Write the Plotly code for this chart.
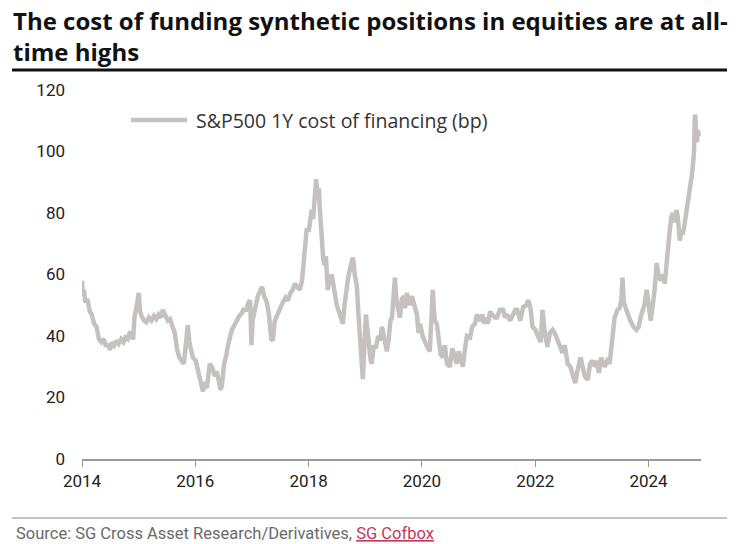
import plotly.graph_objects as go

dates = [
"2014-01-01","2014-01-07","2014-01-14","2014-01-22","2014-02-05","2014-02-20","2014-03-05","2014-03-20",
"2014-04-05","2014-04-20","2014-05-05","2014-05-22","2014-06-05","2014-06-17","2014-06-30","2014-07-15",
"2014-07-28","2014-08-12","2014-08-25","2014-09-10","2014-09-25","2014-10-08","2014-10-22","2014-11-07",
"2014-11-20","2014-11-27","2014-12-05","2014-12-15","2014-12-24","2015-01-02","2015-01-10","2015-01-20",
"2015-02-05","2015-02-20","2015-03-08","2015-03-25","2015-04-10","2015-04-25","2015-05-10","2015-05-25",
"2015-06-06","2015-06-20","2015-07-08","2015-07-22","2015-08-05","2015-08-22","2015-09-05","2015-09-20",
"2015-10-05","2015-10-19","2015-11-01","2015-11-14","2015-11-24","2015-12-05","2015-12-16","2016-01-04",
"2016-01-15","2016-01-30","2016-02-10","2016-02-20","2016-03-05","2016-03-15","2016-04-04","2016-04-17",
"2016-05-06","2016-05-19","2016-06-01","2016-06-12","2016-06-21","2016-07-05","2016-07-20","2016-07-30",
"2016-08-24","2016-09-10","2016-09-25","2016-10-10","2016-10-28","2016-11-10","2016-11-22","2016-12-10",
"2016-12-20","2016-12-28","2017-01-05","2017-01-19","2017-02-08","2017-03-06","2017-03-20","2017-04-06",
"2017-04-20","2017-05-05","2017-05-15","2017-05-28","2017-06-16","2017-07-05","2017-07-19","2017-08-05",
"2017-08-20","2017-09-05","2017-09-20","2017-10-04","2017-10-20","2017-11-05","2017-11-19","2017-11-28",
"2017-12-07","2017-12-20","2018-01-01","2018-01-10","2018-01-21","2018-01-30","2018-02-09","2018-02-18",
"2018-02-28","2018-03-08","2018-03-13","2018-03-20","2018-03-26","2018-04-05","2018-04-14","2018-04-22",
"2018-05-04","2018-05-15","2018-05-30","2018-06-10","2018-06-20","2018-07-01","2018-07-15","2018-08-01",
"2018-08-09","2018-08-20","2018-09-01","2018-09-10","2018-09-25","2018-10-13","2018-10-25","2018-11-08",
"2018-11-18","2018-11-27","2018-12-08","2018-12-16","2018-12-24","2019-01-05","2019-01-11","2019-01-25",
"2019-02-05","2019-02-12","2019-02-25","2019-03-10","2019-03-25","2019-04-05","2019-04-18","2019-05-01",
"2019-05-20","2019-06-01","2019-06-12","2019-06-22","2019-07-05","2019-07-11","2019-07-20","2019-08-01",
"2019-08-12","2019-08-25","2019-09-05","2019-09-14","2019-09-25","2019-10-05","2019-10-16","2019-10-28",
"2019-11-10","2019-11-30","2019-12-10","2019-12-20","2020-01-05","2020-01-20","2020-02-08","2020-02-21",
"2020-03-05","2020-03-11","2020-03-18","2020-03-24","2020-04-06","2020-04-20","2020-05-01","2020-05-15",
"2020-05-28","2020-06-10","2020-06-29","2020-07-15","2020-07-25","2020-08-13","2020-08-25","2020-09-05",
"2020-09-21","2020-10-05","2020-10-17","2020-11-06","2020-11-20","2020-12-08","2020-12-20","2021-01-09",
"2021-01-25","2021-02-04","2021-02-20","2021-03-02","2021-03-15","2021-03-28","2021-04-15","2021-04-29",
"2021-05-18","2021-06-07","2021-06-20","2021-07-03","2021-07-22","2021-08-11","2021-08-25","2021-09-06",
"2021-09-26","2021-10-15","2021-11-04","2021-11-17","2021-12-01","2021-12-14","2022-01-01","2022-01-20",
"2022-02-05","2022-02-16","2022-03-01","2022-03-20","2022-04-05","2022-04-22","2022-05-05","2022-05-24",
"2022-06-10","2022-06-25","2022-07-10","2022-07-28","2022-08-15","2022-09-01","2022-09-15","2022-10-01",
"2022-10-20","2022-11-02","2022-11-15","2022-12-05","2022-12-20","2023-01-05","2023-01-20","2023-01-31",
"2023-02-15","2023-03-01","2023-03-24","2023-04-10","2023-04-25","2023-05-10","2023-05-27","2023-06-15",
"2023-06-28","2023-07-10","2023-07-17","2023-07-25","2023-08-05","2023-08-18","2023-09-05","2023-09-25",
"2023-10-15","2023-10-30","2023-11-10","2023-11-23","2023-12-05","2023-12-20","2024-01-08","2024-01-15",
"2024-01-28","2024-02-09","2024-02-22","2024-03-05","2024-03-20","2024-04-05","2024-04-14","2024-04-25",
"2024-05-05","2024-05-17","2024-05-28","2024-06-05","2024-06-18","2024-06-28","2024-07-07","2024-07-15",
"2024-07-20","2024-07-30","2024-08-08","2024-08-21","2024-09-01","2024-09-10","2024-09-23","2024-10-05",
"2024-10-12","2024-10-20","2024-10-25","2024-10-28","2024-11-02","2024-11-08","2024-11-14","2024-11-20",
]

cost_bp = [
58,53,55,51,52,48,47,44,
43,39,38,39,36.5,37.5,35.5,38,
37,38.5,37.5,39,38,39.5,39,41.5,
39.5,39.5,46,48,51,54,48,46.5,
45,44.5,46,45,46.5,45.5,47,46,
48.5,47,45,45.5,43,41,36,33,
32,31,37,43.5,38,35,33,32,
30,27,24,22,25,23,31,30,
27,28.5,25,22.5,24,31,34,37,
42,44,45,46.5,47.5,49,48,51,
51.5,37,45,48.5,53,56,53,51,
47,39,38.5,45,47.5,50,51,52.5,
51.5,54,55,57,56,55,58,63,
66,75,74,78,81,78,88,91,
86,88,82,76,69,65,63,66,
55,58,60,56,53,50,48,45,
44,50,56,58,62,65.5,60,56,
47,38,33,26,34,47,44,36,
32,31,37,36,40,38.5,43,40,
35,39,45,46,57,59,52,48,
46,52,53,49,54,52,50,53,
51,47,41,44,40,38,36,35,
54,55,49,45,44,38,34,33,
37,31,30,36,34.5,31,35,33,
30,36,40,39.5,43,44,47,45,
47,44,46,44,48,47,46,46,
48.5,48.5,46,47,45,47,48.5,48.5,
45,49.5,50,51.7,49,43,42,39.7,
38,48.5,42,36.5,41,42,41,38.7,
36,34.5,37,31,30,27,24.7,29,
33,30,27,25.7,31,32,30,32,
28,33,30,32,31,38,46,48.5,
49,52,59,51,49,47.5,45,43,
42,43,46,48.5,50,55,48,45,
50,55,63.7,60,58,60,57,64,
70,74.5,79,80,77,81,79,72,
71,74,73,76.7,80,84,88,92,
95,100,111,112,106,103,107,105,
]

y_ticks = [0, 20, 40, 60, 80, 100, 120]
x_ticks = ["2014-01-01", "2016-01-01", "2018-01-01", "2020-01-01", "2022-01-01", "2024-01-01"]
x_tick_labels = ["2014", "2016", "2018", "2020", "2022", "2024"]

series_name = "S&P500 1Y cost of financing (bp)"
title_lines = ["The cost of funding synthetic positions in equities are at all-", "time highs"]
source_text = "Source: SG Cross Asset Research/Derivatives, "
source_link = "SG Cofbox"

W, H = 739, 544
ML, MR, MT, MB = 82, 38, 90, 85
PW, PH = W - ML - MR, H - MT - MB

def px_x(p):
    return (p - ML) / PW

def px_y(p):
    return (H - MB - p) / PH

FONT = "Roboto, Arial, sans-serif"
TITLE_FONT = "'Open Sans', Arial, sans-serif"
LINE_COLOR = "#c6c1c1"

fig = go.Figure()
fig.add_trace(go.Scatter(
    x=dates, y=cost_bp, mode="lines", name=series_name,
    line=dict(color=LINE_COLOR, width=4.5), showlegend=False,
))

fig.update_layout(
    width=W, height=H,
    margin=dict(l=ML, r=MR, t=MT, b=MB),
    paper_bgcolor="white", plot_bgcolor="white",
    font=dict(family=FONT, size=17, color="#222222"),
    xaxis=dict(
        type="date", range=["2014-01-01", "2024-12-04"],
        tickvals=x_ticks, ticktext=x_tick_labels,
        showgrid=False, zeroline=False,
        showline=True, linecolor="#9a9a9a", linewidth=1.5,
        ticks="outside", ticklen=6, tickcolor="#9a9a9a", tickwidth=1.2,
        tickfont=dict(size=17, color="#222222"),
    ),
    yaxis=dict(
        range=[0, 120], tickvals=y_ticks,
        showgrid=False, zeroline=False, showline=False,
        ticks="", ticklabelstandoff=16,
        tickfont=dict(size=17, color="#222222"),
    ),
)

# title (two lines)
fig.add_annotation(xref="paper", yref="paper", x=px_x(11), y=px_y(36),
                   xanchor="left", yanchor="middle", align="left", showarrow=False,
                   text="<b>" + "<br>".join(title_lines) + "</b>",
                   font=dict(family=TITLE_FONT, size=24, color="#111111"))

# title underline
fig.add_shape(type="line", xref="paper", yref="paper",
              x0=px_x(12), x1=px_x(727), y0=px_y(70), y1=px_y(70),
              line=dict(color="#111111", width=3))
# source separator
fig.add_shape(type="line", xref="paper", yref="paper",
              x0=px_x(12), x1=px_x(727), y0=px_y(518), y1=px_y(518),
              line=dict(color="#b0b0b0", width=1.5))
# legend sample
fig.add_shape(type="line", xref="paper", yref="paper",
              x0=px_x(131), x1=px_x(187), y0=px_y(120), y1=px_y(120),
              line=dict(color=LINE_COLOR, width=4.5))
fig.add_annotation(xref="paper", yref="paper", x=px_x(194), y=px_y(120),
                   xanchor="left", yanchor="middle", showarrow=False,
                   text=series_name,
                   font=dict(family=TITLE_FONT, size=19.5, color="#333333"))
# source
fig.add_annotation(xref="paper", yref="paper", x=px_x(14), y=px_y(533),
                   xanchor="left", yanchor="middle", showarrow=False,
                   text=source_text + "<span style='color:#c0395a'><u>" + source_link + "</u></span>",
                   font=dict(family=FONT, size=16.5, color="#6a6a6a"))

fig.write_html("out.html")
